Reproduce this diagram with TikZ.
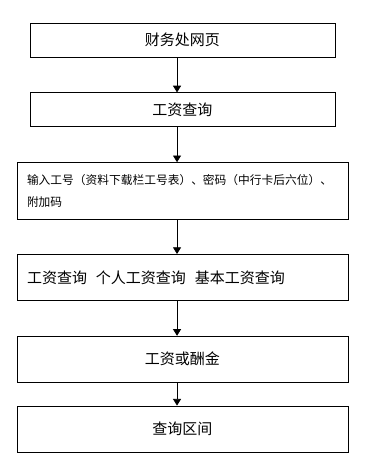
\documentclass[tikz,border=0pt]{standalone}
\usepackage{fontspec}
\setmainfont{Noto Sans CJK SC}
\usetikzlibrary{arrows.meta,positioning}
\tikzset{
  box/.style={draw=black, line width=0.6pt, fill=white, align=center, minimum width=228.75pt, minimum height=25.5pt, inner sep=0pt, font=\fontsize{11.25pt}{14pt}\selectfont},
  widebox/.style={draw=black, line width=0.6pt, fill=white, align=center, minimum width=248.25pt, minimum height=34.5pt, inner sep=0pt, font=\fontsize{11.25pt}{14pt}\selectfont},
  leftbox/.style={widebox, align=left, text width=233.25pt, inner xsep=7.5pt},
  arrow/.style={-{Triangle[length=5pt,width=6pt]}, line width=0.6pt, draw=black}
}

\begin{document}
\begin{tikzpicture}[node distance=26.25pt]
  \useasboundingbox (0,0) rectangle (283.5pt,-346.5pt);
  \node[box] (web) at (136.875pt,-30pt) {财务处网页};
  \node[box, below=of web] (query) {工资查询};
  \node[leftbox, below=of query, minimum height=42.75pt, font=\fontsize{8.8pt}{16.5pt}\selectfont] (login) {输入工号（资料下载栏工号表）、密码（中行卡后六位）、\\附加码};
  \node[leftbox, below=25.5pt of login] (kinds) {工资查询\hspace{0.6em}个人工资查询\hspace{0.6em}基本工资查询};
  \node[widebox, below=of kinds] (pay) {工资或酬金};
  \node[widebox, below=17.25pt of pay] (period) {查询区间};

  \draw[arrow] ([xshift=-4.1pt]web.south) -- ([xshift=-4.1pt]query.north);
  \draw[arrow] ([xshift=-4.1pt]query.south) -- ([xshift=-4.1pt]login.north);
  \draw[arrow] ([xshift=-4.1pt]login.south) -- ([xshift=-4.1pt]kinds.north);
  \draw[arrow] ([xshift=-4.1pt]kinds.south) -- ([xshift=-4.1pt]pay.north);
  \draw[arrow] ([xshift=-4.1pt]pay.south) -- ([xshift=-4.1pt]period.north);
\end{tikzpicture}
\end{document}
